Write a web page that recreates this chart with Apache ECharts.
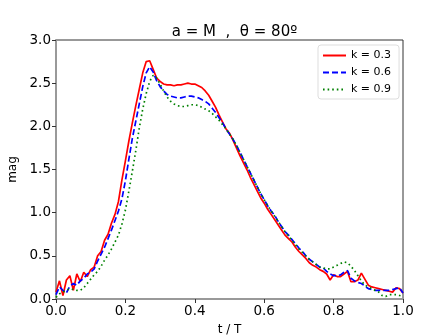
<!DOCTYPE html>
<html>
<head>
<meta charset="utf-8">
<script src="https://cdn.jsdelivr.net/npm/echarts@6/dist/echarts.min.js"></script>
<style>html,body{margin:0;padding:0;background:#fff}#c{width:448px;height:336px}</style>
</head>
<body>
<div id="c"></div>
<script>
var titleText = 'a = M  ,  θ = 80º';
var seriesNames = ['k = 0.3', 'k = 0.6', 'k = 0.9'];
var xTicks = [0.0, 0.2, 0.4, 0.6, 0.8, 1.0];
var yTicks = [0.0, 0.5, 1.0, 1.5, 2.0, 2.5, 3.0];
var tValues = [0.00,0.01,0.02,0.03,0.04,0.05,0.06,0.07,0.08,0.09,
  0.10,0.11,0.12,0.13,0.14,0.15,0.16,0.17,0.18,0.19,
  0.20,0.21,0.22,0.23,0.24,0.25,0.26,0.27,0.28,0.29,
  0.30,0.31,0.32,0.33,0.34,0.35,0.36,0.37,0.38,0.39,
  0.40,0.41,0.42,0.43,0.44,0.45,0.46,0.47,0.48,0.49,
  0.50,0.51,0.52,0.53,0.54,0.55,0.56,0.57,0.58,0.59,
  0.60,0.61,0.62,0.63,0.64,0.65,0.66,0.67,0.68,0.69,
  0.70,0.71,0.72,0.73,0.74,0.75,0.76,0.77,0.78,0.79,
  0.80,0.81,0.82,0.83,0.84,0.85,0.86,0.87,0.88,0.89,
  0.90,0.91,0.92,0.93,0.94,0.95,0.96,0.97,0.98,0.99,1.00];
var magK03 = [0.08,0.21,0.04,0.22,0.27,0.10,0.29,0.20,0.31,0.26,
  0.34,0.37,0.50,0.55,0.68,0.75,0.88,0.98,1.13,1.38,
  1.60,1.83,2.04,2.24,2.43,2.62,2.75,2.76,2.66,2.56,
  2.52,2.49,2.48,2.48,2.47,2.48,2.48,2.49,2.50,2.49,
  2.49,2.47,2.45,2.41,2.36,2.29,2.22,2.13,2.05,1.97,
  1.92,1.84,1.75,1.66,1.58,1.50,1.41,1.33,1.25,1.17,
  1.11,1.04,0.98,0.92,0.86,0.80,0.74,0.70,0.66,0.60,
  0.55,0.51,0.47,0.42,0.39,0.37,0.34,0.32,0.29,0.22,
  0.28,0.26,0.26,0.29,0.32,0.20,0.20,0.22,0.30,0.23,
  0.16,0.14,0.13,0.12,0.11,0.10,0.09,0.08,0.13,0.12,0.07];
var magK06 = [0.05,0.14,0.10,0.07,0.15,0.18,0.16,0.21,0.24,0.29,
  0.31,0.35,0.44,0.52,0.60,0.70,0.80,0.91,1.02,1.16,
  1.37,1.62,1.86,2.06,2.26,2.46,2.62,2.69,2.63,2.53,
  2.46,2.41,2.37,2.35,2.34,2.33,2.33,2.34,2.35,2.35,
  2.34,2.33,2.31,2.29,2.26,2.21,2.16,2.10,2.04,1.97,
  1.91,1.85,1.78,1.70,1.62,1.54,1.46,1.38,1.30,1.22,
  1.15,1.08,1.02,0.97,0.90,0.84,0.78,0.74,0.69,0.64,
  0.59,0.55,0.50,0.46,0.43,0.40,0.37,0.36,0.32,0.29,
  0.27,0.27,0.28,0.31,0.33,0.24,0.21,0.19,0.18,0.15,
  0.12,0.11,0.10,0.10,0.10,0.10,0.10,0.11,0.12,0.13,0.07];
var magK09 = [0.02,0.06,0.08,0.10,0.12,0.11,0.10,0.10,0.13,0.18,
  0.23,0.28,0.32,0.38,0.45,0.51,0.58,0.66,0.74,0.87,
  1.03,1.25,1.48,1.72,1.98,2.20,2.38,2.52,2.59,2.56,
  2.49,2.41,2.34,2.29,2.26,2.24,2.23,2.23,2.24,2.25,
  2.25,2.24,2.22,2.20,2.18,2.15,2.11,2.07,2.02,1.97,
  1.91,1.85,1.78,1.70,1.62,1.54,1.46,1.38,1.30,1.22,
  1.15,1.08,1.02,0.96,0.90,0.84,0.78,0.73,0.68,0.63,
  0.58,0.54,0.50,0.46,0.43,0.40,0.37,0.36,0.35,0.35,
  0.37,0.39,0.41,0.43,0.42,0.38,0.33,0.27,0.21,0.16,
  0.14,0.12,0.10,0.08,0.04,0.03,0.05,0.05,0.05,0.04,0.03];

function pairs(ys){ return tValues.map(function(t,i){ return [t, ys[i]]; }); }

var font = 'DejaVu Sans';
var chart = echarts.init(document.getElementById('c'), null, {renderer:'canvas'});
var lineDefs = [
  {data: magK03, color:'#ff0000', type:'solid', width:1.7},
  {data: magK06, color:'#0000ff', type:[6,3], width:1.7},
  {data: magK09, color:'#008000', type:[1.6,3], width:1.7}
];
chart.setOption({
  animation:false,
  backgroundColor:'#ffffff',
  title:{text:titleText, left:229.5, textAlign:'center', top:20,
    textStyle:{fontFamily:font, fontSize:15, fontWeight:'normal', color:'#000'}},
  grid:{left:56, right:45, top:40, bottom:37, show:true, borderColor:'#333', borderWidth:1,
    containLabel:false, outerBoundsMode:'none'},
  legend:{
    orient:'vertical', left:318, top:45, width:80,
    data:seriesNames, itemWidth:23, itemHeight:8, itemGap:6,
    itemStyle:{opacity:0, borderWidth:0},
    padding:[5,8,4,4], borderColor:'#ddd', borderWidth:1, borderRadius:3,
    textStyle:{fontFamily:font, fontSize:11, color:'#000'}
  },
  xAxis:{type:'value', min:0, max:1, interval:0.2,
    name:'t / T', nameLocation:'middle', nameGap:25,
    nameTextStyle:{fontFamily:font, fontSize:12, color:'#000'},
    axisLine:{show:true, lineStyle:{color:'#999', width:2}},
    axisTick:{show:true, length:4, lineStyle:{color:'#333'}},
    axisLabel:{fontFamily:font, fontSize:13.5, color:'#000', margin:5,
      formatter:function(v){ return v.toFixed(1); }},
    splitLine:{show:false}},
  yAxis:{type:'value', min:0, max:3, interval:0.5,
    name:'mag', nameLocation:'middle', nameGap:32, nameRotate:90,
    nameTextStyle:{fontFamily:font, fontSize:12, color:'#000'},
    axisLine:{show:true, lineStyle:{color:'#999', width:2}},
    axisTick:{show:true, length:4, lineStyle:{color:'#333'}},
    axisLabel:{fontFamily:font, fontSize:13.5, color:'#000', margin:5,
      formatter:function(v){ return v.toFixed(1); }},
    splitLine:{show:false}},
  series: lineDefs.map(function(d,i){
    return {name:seriesNames[i], type:'line', data:pairs(d.data), symbol:'none',
      smooth:false, color:d.color,
      lineStyle:{color:d.color, type:d.type, width:d.width}};
  })
});
</script>
</body>
</html>
